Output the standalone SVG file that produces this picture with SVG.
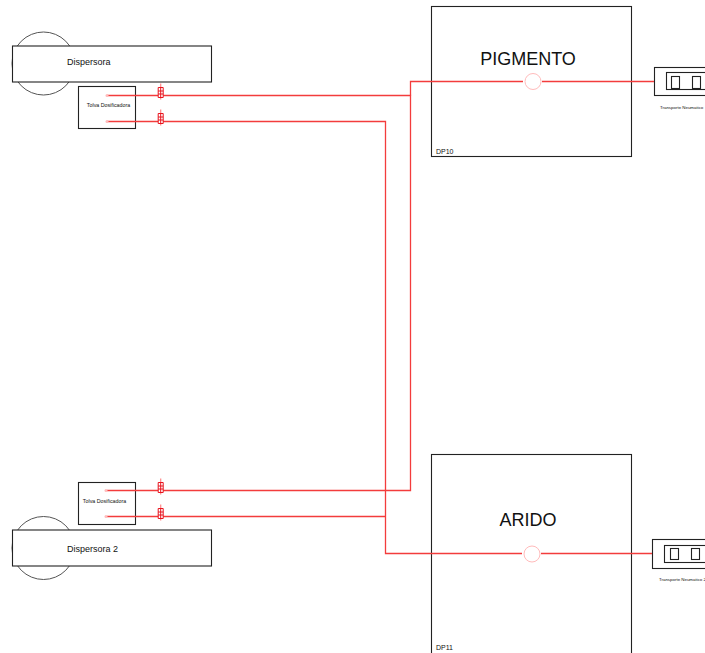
<svg xmlns="http://www.w3.org/2000/svg" width="705" height="653" viewBox="0 0 705 653">
<defs>
<style>
text{font-family:"Liberation Sans",Arial,sans-serif;fill:#111}
.b{fill:#fff;stroke:#222;stroke-width:1.1}
.g{fill:none;stroke:#555;stroke-width:1}
.r{fill:none;stroke:#f33c3c;stroke-width:1.3}
.t{fill:#fff;stroke:#e8141e;stroke-width:1}
.c{fill:#fff;stroke:#fbb;stroke-width:1}
.d{fill:#fbb}
</style>
<g id="fuse">
<path d="M0-9V7" fill="none" stroke="#f88" stroke-width="1.200"/>
<path class="t" d="M-2.500-5h5v10h-5z"/>
<path d="M0-5V5M-2.500-1.500h5M-2.500 1.500h5" fill="none" stroke="#e8141e" stroke-width="1"/>
</g>
</defs>
<rect width="705" height="653" fill="#fff"/>
<g id="dispersora">
<circle class="g" cx="43.500" cy="63.500" r="31.500"/>
<rect class="b" x="12.500" y="46" width="199" height="36"/>
<text x="67" y="65" font-size="9">Dispersora</text>
</g>
<g id="tolva1">
<rect class="b" x="78.500" y="86.500" width="57" height="42"/>
<text x="108.500" y="107" font-size="5.300" text-anchor="middle">Tolva Dosificadora</text>
</g>
<g id="dispersora2">
<circle class="g" cx="43.500" cy="548" r="31.500"/>
<rect class="b" x="12.500" y="530" width="199" height="36"/>
<text x="67" y="552" font-size="9">Dispersora 2</text>
</g>
<g id="tolva2">
<rect class="b" x="78.500" y="482.500" width="57" height="42"/>
<text x="104.500" y="503" font-size="5.300" text-anchor="middle">Tolva Dosificadora</text>
</g>
<g id="pigmento">
<rect class="b" x="431.500" y="6.500" width="200" height="150"/>
<text x="528" y="65" font-size="18" text-anchor="middle">PIGMENTO</text>
<text x="436" y="154" font-size="7">DP10</text>
</g>
<g id="arido">
<rect class="b" x="431.500" y="454.500" width="200" height="210"/>
<text x="528" y="526" font-size="18" text-anchor="middle">ARIDO</text>
<text x="436" y="650" font-size="7">DP11</text>
</g>
<g id="transporte1">
<rect class="b" x="654.500" y="67.500" width="60" height="28"/>
<rect class="b" x="666.500" y="72.500" width="50" height="17"/>
<rect class="b" x="671.500" y="76.500" width="8" height="12"/>
<rect class="b" x="692.500" y="76.500" width="8" height="12"/>
<text x="660" y="109" font-size="4.400">Transporte Neumatico</text>
</g>
<g id="transporte2">
<rect class="b" x="652.500" y="539.500" width="60" height="29"/>
<rect class="b" x="664.500" y="545.500" width="50" height="17"/>
<rect class="b" x="670.500" y="548.500" width="8" height="11"/>
<rect class="b" x="691.500" y="548.500" width="8" height="11"/>
<text x="659" y="581" font-size="4.400">Transporte Neumatico 2</text>
</g>
<g id="connectors">
<path class="r" d="M107 95.500H410.500V490.500H107"/>
<path class="r" d="M107 121.500H385.500V553.500H522"/>
<path class="r" d="M107 516.500H385.500"/>
<path class="r" d="M410.500 95.500V81.500H523M542 81.500H654"/>
<path class="r" d="M541 553.500H652"/>
<circle class="c" cx="533" cy="81.500" r="8"/>
<circle class="c" cx="532" cy="554" r="8"/>
<circle class="d" cx="107" cy="95.500" r="1.500"/>
<circle class="d" cx="107" cy="121.500" r="1.500"/>
<circle class="d" cx="106" cy="490.500" r="1.500"/>
<circle class="d" cx="106" cy="516.500" r="1.500"/>
<use href="#fuse" x="160.700" y="92.500"/>
<use href="#fuse" x="160.700" y="118.500"/>
<use href="#fuse" x="160.700" y="487.500"/>
<use href="#fuse" x="160.700" y="513.500"/>
</g>
</svg>
